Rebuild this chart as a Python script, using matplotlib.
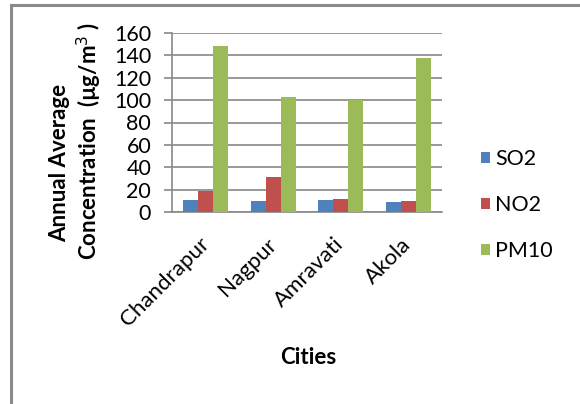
import numpy as np
import matplotlib
matplotlib.use("Agg")
import matplotlib.pyplot as plt
from matplotlib.patches import Rectangle

cities = ["Chandrapur", "Nagpur", "Amravati", "Akola"]
so2 = [11, 10, 11, 9]
no2 = [19, 31, 12, 10]
pm10 = [148, 103, 100, 138]
series_names = ["SO2", "NO2", "PM10"]
colors = ["#4F81BD", "#C0504D", "#9BBB59"]

plt.rcParams["font.family"] = ["Lato", "DejaVu Sans"]

fig = plt.figure(figsize=(5.8, 4.04), dpi=100)
ax = fig.add_axes([172 / 580, 1 - 212 / 404, 270 / 580, 179 / 404])

x = np.arange(len(cities))
w = 0.222
for i, (vals, name, col) in enumerate(zip([so2, no2, pm10], series_names, colors)):
    ax.bar(x + (i - 1) * w, vals, width=w, color=col, label=name, zorder=3)

ax.set_xlim(-0.5, len(cities) - 0.5)
ax.set_ylim(0, 160)
ax.set_yticks(range(0, 161, 20))
ax.grid(axis="y", color="#888888", linewidth=1.2, zorder=0)
for s in ["top", "right"]:
    ax.spines[s].set_visible(False)
ax.spines["left"].set_color("#888888")
ax.spines["bottom"].set_color("#888888")
ax.spines["left"].set_linewidth(1.2)
ax.spines["bottom"].set_linewidth(1.2)
ax.tick_params(axis="y", length=6, width=1.2, color="#888888", labelsize=15.5, pad=9)
ax.tick_params(axis="x", length=0, labelsize=16, pad=21)
ax.set_xticks(x)
ax.set_xticklabels(cities, rotation=45, ha="right", va="center", rotation_mode="anchor")

fig.text(60 / 580, 1 - 163 / 404, "Annual Average", rotation=90, fontsize=16,
         fontweight="bold", ha="center", va="center")
fig.text(89 / 580, 1 - 141 / 404, "Concentration  (\u00b5g/m$^3$ )", rotation=90,
         fontsize=16, fontweight="bold", ha="center", va="center")
fig.text(308 / 580, 1 - 358 / 404, "Cities", fontsize=16, fontweight="bold",
         ha="center", va="center")

ax.legend(loc="center left", bbox_to_anchor=(1.144, 0.039), frameon=False,
          fontsize=15.5, handlelength=0.42, handleheight=0.42, handletextpad=0.25,
          labelspacing=1.2, borderpad=0, borderaxespad=0)

fig.patches.append(Rectangle((11 / 580, -0.05), 1.1, 1 - 5 / 404 + 0.05,
                             transform=fig.transFigure, fill=False,
                             edgecolor="#8a8a8a", linewidth=2.2))

fig.savefig("out.png", dpi=100)
